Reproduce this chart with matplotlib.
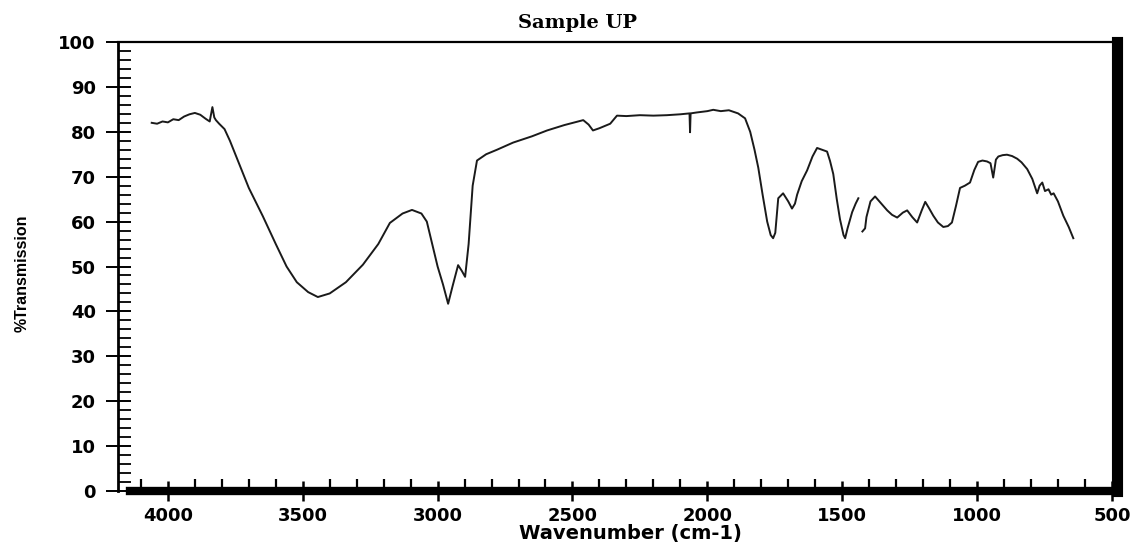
import matplotlib
matplotlib.use("Agg")
import matplotlib.pyplot as plt
import numpy as np
from matplotlib.ticker import MultipleLocator

# Wavenumber (cm-1) and %Transmission
wavenumber = [4060, 4040, 4020, 4000, 3980, 3960, 3940, 3920, 3900, 3880, 3860, 3845,
              3835, 3828, 3822, 3810, 3790, 3770, 3740, 3700, 3648, 3600, 3560, 3522,
              3480, 3444, 3400, 3340, 3277, 3220, 3177, 3130, 3095, 3060, 3040, 3020,
              3000, 2980, 2961, 2945, 2924, 2910, 2898, 2885, 2870, 2854, 2820, 2780,
              2720, 2650, 2594, 2530, 2460, 2440, 2424, 2400, 2360, 2335, 2300, 2250,
              2200, 2150, 2100, 2066, 2064, 2062, 2040, 2000, 1978, 1950, 1920, 1886,
              1860, 1841, 1825, 1811, 1795, 1778, 1765, 1756, 1748, 1737, 1719, 1700,
              1686, 1675, 1667, 1650, 1630, 1610, 1593, 1575, 1556, 1545, 1533, 1520,
              1508, 1495, 1489, 1480, 1463, 1450, 1440, 1432, 1425, 1415, 1410, 1395,
              1378, 1355, 1333, 1315, 1296, 1275, 1259, 1240, 1222, 1205, 1192, 1178,
              1162, 1145, 1125, 1108, 1093, 1078, 1063, 1045, 1026, 1010, 996, 980,
              963, 950, 940, 930, 921, 905, 889, 870, 851, 835, 814, 795, 777, 768,
              758, 748, 735, 725, 716, 700, 680, 660, 643]
transmission = [82.0, 81.8, 82.3, 82.1, 82.8, 82.6, 83.4, 83.9, 84.2, 83.8, 82.9, 82.3,
                85.5, 83.2, 82.6, 81.8, 80.6, 78.0, 73.5, 67.5, 61.2, 55.0, 50.0, 46.5,
                44.3, 43.2, 44.0, 46.5, 50.4, 55.0, 59.7, 61.8, 62.6, 61.8, 60.0, 55.0,
                50.0, 46.0, 41.7, 45.5, 50.3, 49.0, 47.7, 55.0, 68.0, 73.6, 75.0, 76.0,
                77.6, 79.0, 80.3, 81.5, 82.6, 81.6, 80.3, 80.8, 81.8, 83.6, 83.5, 83.7,
                83.6, 83.7, 83.9, 84.1, 79.9, 84.1, 84.3, 84.6, 84.9, 84.6, 84.8, 84.1,
                83.0, 80.0, 76.0, 72.0, 66.0, 60.0, 57.0, 56.3, 57.5, 65.2, 66.3, 64.5,
                62.9, 64.0, 66.0, 69.0, 71.4, 74.5, 76.4, 76.0, 75.6, 73.5, 70.6, 65.0,
                60.5, 57.0, 56.3, 58.5, 62.1, 64.0, 65.2, np.nan, 57.8, 58.5, 61.0, 64.5,
                65.6, 64.0, 62.5, 61.5, 60.9, 62.0, 62.5, 61.0, 59.8, 62.5, 64.4, 63.0,
                61.3, 59.8, 58.8, 59.0, 59.8, 63.5, 67.5, 68.0, 68.7, 71.5, 73.3, 73.6,
                73.4, 73.0, 69.8, 73.8, 74.5, 74.8, 74.9, 74.6, 74.0, 73.2, 71.7, 69.5,
                66.3, 68.0, 68.7, 66.8, 67.2, 66.0, 66.3, 64.5, 61.3, 58.8, 56.3]

x_major = [4000, 3500, 3000, 2500, 2000, 1500, 1000, 500]
y_major = [0, 10, 20, 30, 40, 50, 60, 70, 80, 90, 100]

W, H = 1134, 542
fig = plt.figure(figsize=(W / 100, H / 100), dpi=100)
left_px, right_px, top_px, bottom_px = 118, 1117, 42, 491
ax = fig.add_axes([left_px / W, 1 - bottom_px / H,
                   (right_px - left_px) / W, (bottom_px - top_px) / H])

ax.plot(wavenumber, transmission, color="#1a1a1a", lw=1.4)

ax.set_xlim(4185, 481)
ax.set_ylim(0, 100)

ax.set_xticks(x_major)
ax.set_xticklabels([str(v) for v in x_major])
ax.xaxis.set_minor_locator(MultipleLocator(100))
ax.set_yticks(y_major)
ax.set_yticklabels([str(v) for v in y_major])
ax.yaxis.set_minor_locator(MultipleLocator(2))

ax.tick_params(axis="x", which="major", direction="inout", length=15, width=1.8,
               labelsize=13, pad=4)
ax.tick_params(axis="x", which="minor", direction="in", length=8.5, width=1.6)
ax.tick_params(axis="y", which="major", direction="inout", length=18, width=1.4,
               labelsize=13, pad=7)
ax.tick_params(axis="y", which="minor", direction="in", length=9, width=1.3)
for lab in ax.get_xticklabels() + ax.get_yticklabels():
    lab.set_fontweight("bold")
    lab.set_family("DejaVu Sans")

ax.spines["bottom"].set_linewidth(6)
ax.spines["bottom"].set_bounds(4141, 481)
ax.spines["right"].set_linewidth(8)
ax.spines["left"].set_linewidth(2)
ax.spines["top"].set_linewidth(1.6)

ax.set_xlabel("Wavenumber (cm-1)", fontsize=14, fontweight="bold",
              family="DejaVu Sans")
ax.xaxis.set_label_coords((630 - left_px) / (right_px - left_px),
                          -33 / (bottom_px - top_px))
ax.set_ylabel("%Transmission", fontsize=11.5, family="Liberation Sans",
              fontweight="bold")
ax.yaxis.set_label_coords((30 - left_px) / (right_px - left_px), 0.486)

fig.text(577 / W, 1 - 23 / H, "Sample UP", fontsize=14, fontweight="bold",
         family="DejaVu Serif", ha="center", va="center")

fig.savefig("out.png", dpi=100)
